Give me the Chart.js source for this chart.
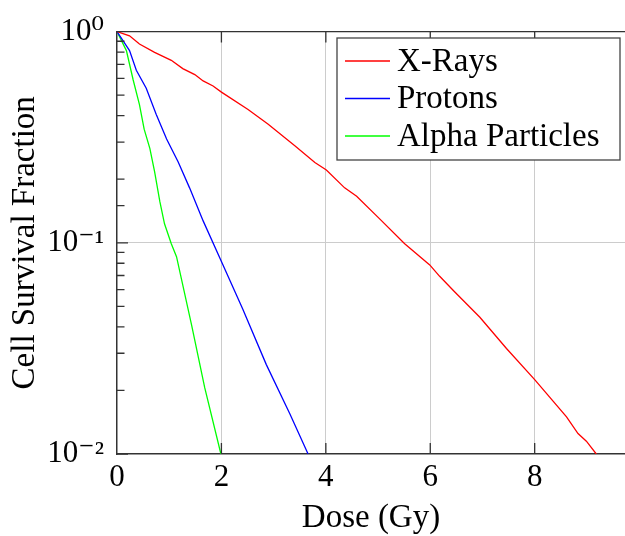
<!DOCTYPE html>
<html>
<head>
<meta charset="utf-8">
<script src="https://cdn.jsdelivr.net/npm/chart.js@4/dist/chart.umd.min.js"></script>
<style>
  html, body { margin: 0; padding: 0; background: #fff; }
  #wrap { width: 625px; height: 536px; position: relative; }
</style>
</head>
<body>
<div id="wrap"><canvas id="survivalChart"></canvas></div>
<script>
const xrayDose = [0, 0.24, 0.43, 0.72, 1.04, 1.26, 1.49, 1.65, 1.84, 2.0, 2.51, 2.89, 3.40, 3.79, 4.01, 4.36, 4.59, 5.07, 5.51, 5.99, 6.18, 6.47, 6.95, 7.46, 8.0, 8.61, 8.83, 8.99, 9.18];
const xraySurvival = [1, 0.955, 0.873, 0.798, 0.731, 0.668, 0.626, 0.584, 0.553, 0.517, 0.428, 0.365, 0.289, 0.240, 0.221, 0.182, 0.166, 0.127, 0.099, 0.0786, 0.0694, 0.0585, 0.0444, 0.0316, 0.0225, 0.015, 0.0125, 0.0115, 0.01];

const protonDose = [0, 0.24, 0.37, 0.56, 0.75, 0.95, 1.17, 1.39, 1.65, 2.0, 2.41, 2.86, 3.31, 3.66];
const protonSurvival = [1, 0.813, 0.656, 0.539, 0.406, 0.310, 0.242, 0.182, 0.127, 0.0815, 0.0485, 0.0265, 0.0155, 0.01];

const alphaDose = [0, 0.18, 0.31, 0.43, 0.52, 0.63, 0.72, 0.82, 0.91, 1.04, 1.14, 1.43, 1.68, 1.99];
const alphaSurvival = [1, 0.813, 0.59, 0.451, 0.345, 0.279, 0.217, 0.157, 0.123, 0.099, 0.086, 0.0406, 0.0206, 0.01];

const seriesNames = ['X-Rays', 'Protons', 'Alpha Particles'];
const xTicks = [0, 2, 4, 6, 8];
const yMajor = [1, 0.1, 0.01];
const yTickLabels = ['10\u2070', '10\u207B\u00B9', '10\u207B\u00B2'];

const FONT = "'Liberation Serif', 'DejaVu Serif', serif";
const AXIS = '#333333';
const GRID = '#cccccc';

function toPoints(xs, ys) {
  return xs.map((x, i) => ({ x: x, y: ys[i] }));
}

function isMajor(v) {
  const l = Math.log10(v);
  return Math.abs(l - Math.round(l)) < 1e-9;
}

// frame, inner tick marks and the boxed legend
const framePlugin = {
  id: 'frame',
  afterDatasetsDraw(chart) {
    const { ctx, chartArea: a, scales } = chart;
    const xs = scales.x, ys = scales.y;
    ctx.save();
    ctx.strokeStyle = AXIS;
    ctx.lineWidth = 1.3;
    ctx.beginPath();
    ctx.moveTo(a.left, a.top);
    ctx.lineTo(a.right, a.top);
    xTicks.forEach(v => {
      if (v === 0) return;
      const px = xs.getPixelForValue(v);
      ctx.moveTo(px, a.bottom);
      ctx.lineTo(px, a.bottom - 11);
      ctx.moveTo(px, a.top);
      ctx.lineTo(px, a.top + 11);
    });
    ys.ticks.forEach(t => {
      const py = ys.getPixelForValue(t.value);
      const len = isMajor(t.value) ? 11 : 7.5;
      ctx.moveTo(a.left, py);
      ctx.lineTo(a.left + len, py);
    });
    ctx.stroke();

    // legend
    const bx = 337, by = 38, bw = 283, bh = 122;
    ctx.fillStyle = '#ffffff';
    ctx.fillRect(bx, by, bw, bh);
    ctx.strokeStyle = '#444444';
    ctx.lineWidth = 1.3;
    ctx.strokeRect(bx, by, bw, bh);
    ctx.font = '33px ' + FONT;
    ctx.textBaseline = 'middle';
    ctx.textAlign = 'left';
    chart.data.datasets.forEach((ds, i) => {
      const ly = 61 + i * 37.5;
      ctx.strokeStyle = ds.borderColor;
      ctx.lineWidth = 1.3;
      ctx.beginPath();
      ctx.moveTo(345, ly);
      ctx.lineTo(390, ly);
      ctx.stroke();
      ctx.fillStyle = '#000000';
      ctx.fillText(ds.label, 397, ly + 1);
    });
    ctx.restore();
  }
};

const ctx = document.getElementById('survivalChart').getContext('2d');
new Chart(ctx, {
  type: 'line',
  data: {
    datasets: [
      { label: seriesNames[0], data: toPoints(xrayDose, xraySurvival), borderColor: '#ff0000' },
      { label: seriesNames[1], data: toPoints(protonDose, protonSurvival), borderColor: '#0000ff' },
      { label: seriesNames[2], data: toPoints(alphaDose, alphaSurvival), borderColor: '#00ff00' }
    ]
  },
  options: {
    responsive: true,
    maintainAspectRatio: false,
    animation: false,
    layout: { padding: { top: 24, right: 0, left: 0, bottom: 0 } },
    elements: {
      line: { borderWidth: 1.3, tension: 0, fill: false },
      point: { radius: 0, hoverRadius: 0 }
    },
    plugins: {
      legend: { display: false },
      tooltip: { enabled: false }
    },
    scales: {
      x: {
        type: 'linear',
        min: 0,
        max: 9.73,
        afterFit(scale) { scale.height = 82; },
        afterBuildTicks(scale) { scale.ticks = xTicks.map(v => ({ value: v })); },
        ticks: {
          autoSkip: false,
          padding: 5,
          color: '#000',
          font: { family: FONT, size: 31 },
          callback: v => String(v)
        },
        grid: {
          drawTicks: false,
          lineWidth: 1,
          color: c => (c.tick && c.tick.value === 0 ? 'rgba(0,0,0,0)' : GRID)
        },
        border: { display: true, color: AXIS, width: 1.5 },
        title: {
          display: true,
          text: 'Dose (Gy)',
          color: '#000',
          font: { family: FONT, size: 33, lineHeight: 1.05 },
          padding: { top: 0, bottom: 0 }
        }
      },
      y: {
        type: 'logarithmic',
        min: 0.01,
        max: 1,
        afterFit(scale) { scale.width = 117; },
        ticks: {
          autoSkip: false,
          padding: 13,
          color: '#000',
          font: { family: FONT, size: 31 },
          callback: v => {
            const i = yMajor.findIndex(m => Math.abs(m - v) < 1e-12);
            return i >= 0 ? yTickLabels[i] : '';
          }
        },
        grid: {
          drawTicks: false,
          lineWidth: 1,
          color: c => (c.tick && Math.abs(c.tick.value - 0.1) < 1e-12 ? GRID : 'rgba(0,0,0,0)')
        },
        border: { display: true, color: AXIS, width: 1.5 },
        title: {
          display: true,
          text: 'Cell Survival Fraction',
          color: '#000',
          font: { family: FONT, size: 33, lineHeight: 1.05 },
          padding: { top: 8, bottom: 0 }
        }
      }
    }
  },
  plugins: [framePlugin]
});
</script>
</body>
</html>
